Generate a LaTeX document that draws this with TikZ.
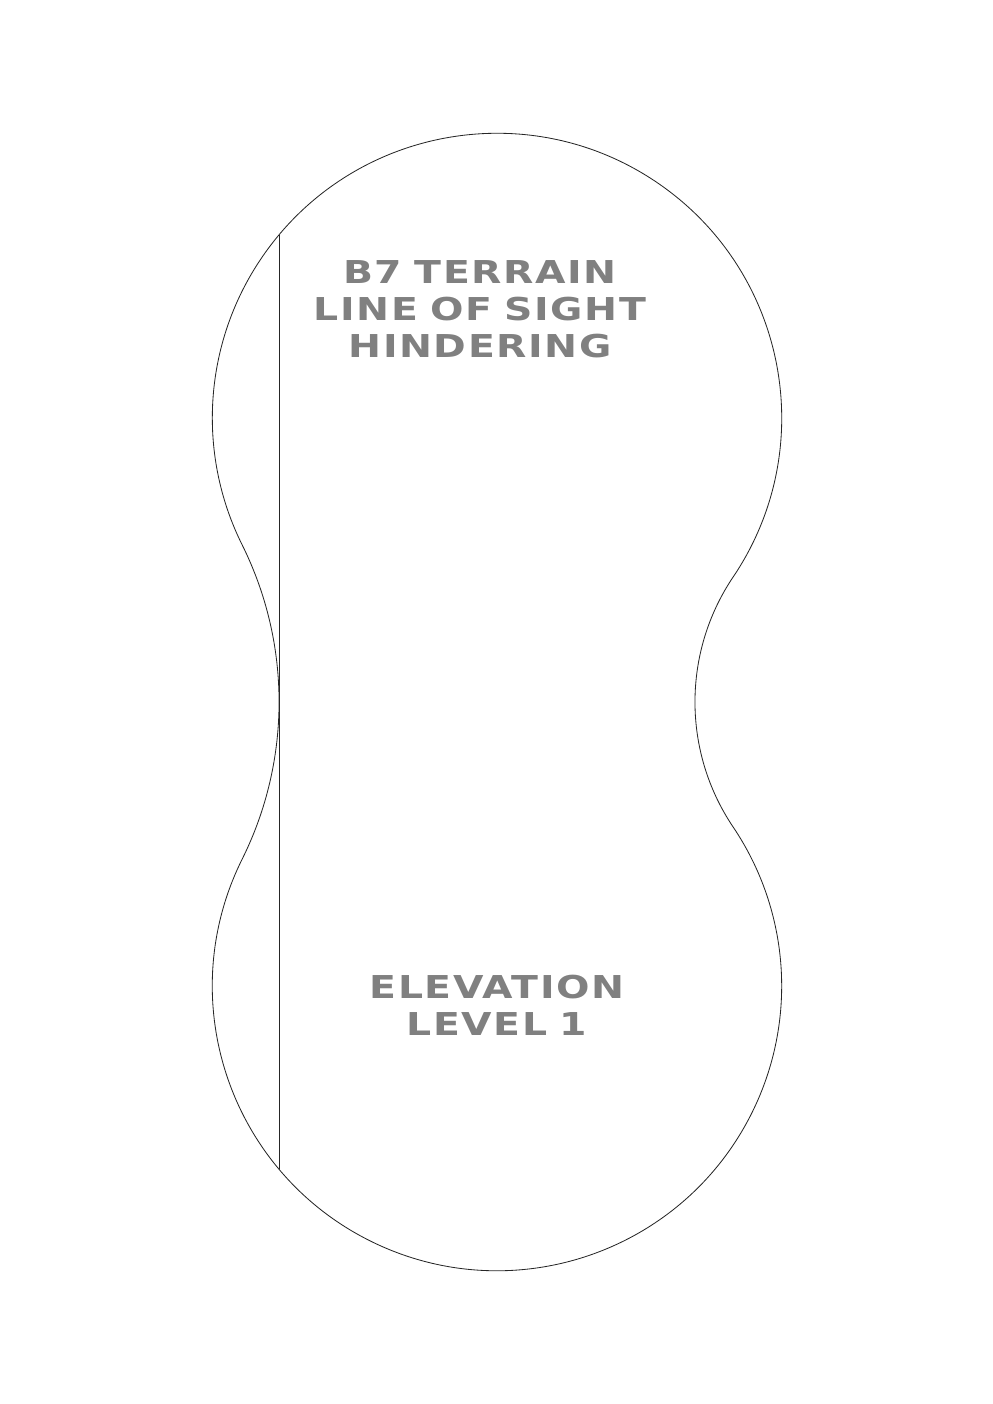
\documentclass[tikz,border=0pt]{standalone}
\usepackage{fontspec}
\usetikzlibrary{calc}
\newfontfamily\stencilfont{DejaVu Sans}[FakeStretch=1.25,LetterSpace=5,WordSpace=0.8]
\definecolor{stencilgray}{RGB}{128,128,128}
\tikzset{%
  % Specifications for style of outline and labels:
      outline/.style = {draw=black!85, line width=0.5pt},
  stencilText/.style = {text=stencilgray, align=center, inner sep=0pt,
                        font=\stencilfont\bfseries\fontsize{19}{22.3}\selectfont},
}
\begin{document}
\begin{tikzpicture}[x=0.0212cm, y=0.0212cm]
  \useasboundingbox (0,0) rectangle (993,1404);
  % Centres of the two lobes and of the two waist arcs
  \coordinate (topC)   at (497,986);
  \coordinate (botC)   at (497,418);
  \coordinate (leftC)  at (-74,702);
  \coordinate (rightC) at (918.8,702);
  % Outline of the template
  \draw[outline] ($(topC)+(-33.96:284.7)$)
      arc[start angle=-33.96, end angle=206.45, radius=284.7]
      arc[start angle=26.45,  end angle=-26.45, radius=353]
      arc[start angle=153.55, end angle=393.96, radius=284.7]
      arc[start angle=213.96, end angle=146.04, radius=223.8] -- cycle;
  % Cut line on the left
  \coordinate (cutTop) at ($(topC)+(-218,183.1)$);
  \coordinate (cutBot) at ($(botC)+(-218,-183.1)$);
  \draw[outline] (cutTop) -- (cutBot);
  % Labels
  \node (title)     [stencilText] at (480,1094.5) {B7 TERRAIN\\LINE OF SIGHT\\HINDERING};
  \node (elevation) [stencilText] at (497,399)    {ELEVATION\\LEVEL 1};
\end{tikzpicture}
\end{document}
